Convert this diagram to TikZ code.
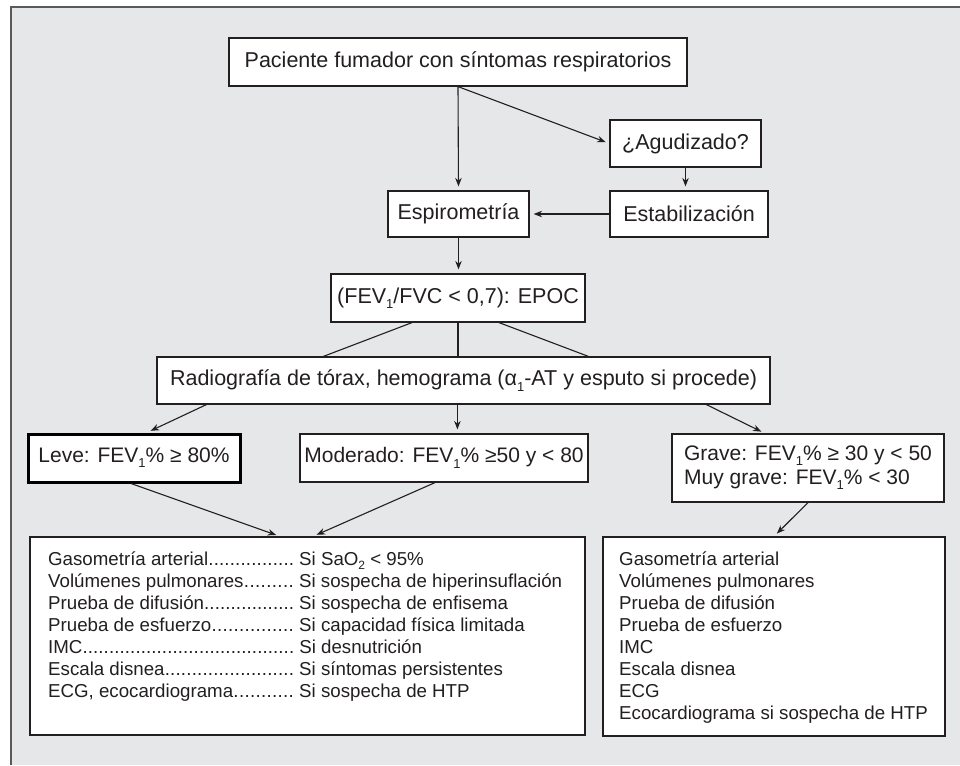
\documentclass[tikz,border=0pt]{standalone}
\usepackage{fontspec}
\setmainfont{Liberation Sans}
\usetikzlibrary{arrows.meta,calc}
\definecolor{bggray}{HTML}{E6E7E8}
\definecolor{framec}{HTML}{5A5A5A}
\definecolor{ink}{HTML}{231F20}
\newcommand{\mysub}[2][13]{\raisebox{-0.25em}{\fontsize{#1}{#1}\selectfont #2}}
\newcommand{\dotlead}{\xleaders\hbox{.}\hfill}
\newcommand{\col}[1]{\makebox[246pt][l]{#1\dotlead}\hspace{5pt}}
\begin{document}
\begin{tikzpicture}[x=1pt,y=-1pt,
  box/.style={draw=ink, line width=1.2pt, fill=white, inner sep=0pt, text=ink,
    font=\fontsize{21.5}{22}\selectfont, align=left},
  sev/.style={box, font=\fontsize{21}{24}\selectfont},
  arr/.style={draw=ink, line width=1.1pt, -{Stealth[length=8.5pt,width=6.5pt]}, shorten >=4pt},
  ln/.style={draw=ink, line width=1.1pt},
  listtxt/.style={anchor=base west, inner sep=0pt, text=ink, font=\fontsize{18.7}{22}\selectfont}]
\useasboundingbox (0,0) rectangle (960,765);
\clip (0,0) rectangle (960,765);
\fill[white] (0,0) rectangle (960,765);
\fill[bggray] (10.5,7.5) rectangle (960,765);
\draw[framec, line width=2pt] (10.5,765) -- (10.5,7.5) -- (960,7.5);

% flow nodes
\node[box, minimum width=458pt, minimum height=48pt] (pac) at (458,62) {Paciente fumador con síntomas respiratorios};
\node[box, minimum width=151pt, minimum height=47pt] (agud) at (685.5,143.5) {¿Agudizado?};
\node[box, minimum width=158pt, minimum height=46pt] (estab) at (689,214) {Estabilización};
\node[box, minimum width=141pt, minimum height=46pt] (espiro) at (458.5,214) {Espirometría};
\node[box, minimum width=254pt, minimum height=48pt] (fev) at (458,298) {(FEV\mysub{1}/FVC < 0,7): EPOC};
\node[box, minimum width=613pt, minimum height=47pt] (radiog) at (463.5,380.5) {Radiografía de tórax, hemograma (α\mysub{1}-AT y esputo si procede)};
\node[sev, line width=3pt, draw=black, minimum width=212pt, minimum height=48pt] (leve) at (134,458) {Leve: FEV\mysub{1}\% ≥ 80\%};
\node[sev, minimum width=288pt, minimum height=48pt] (mod) at (444,458) {Moderado: FEV\mysub{1}\% ≥50 y < 80};
\node[sev, minimum width=272pt, minimum height=68pt] (grave) at (808,468) {Grave: FEV\mysub{1}\% ≥ 30 y < 50\\Muy grave: FEV\mysub{1}\% < 30};
\node[box, minimum width=555pt, minimum height=198pt] (listL) at (307.5,636) {};
\node[box, minimum width=342pt, minimum height=199pt] (listR) at (774,636.5) {};

% connectors
\draw[arr] (pac.south) -- (espiro.north);
\draw[arr] (pac.south) -- (agud.west);
\draw[arr] (agud.south) -- (agud.south |- estab.north);
\draw[arr] (estab.west) -- (espiro.east);
\draw[arr] (espiro.south) -- (espiro.south |- fev.north);
\draw[ln] ($(fev.south)+(-46,0)$) -- ($(radiog.north west)+(167,0)$);
\draw[ln] (fev.south) -- (fev.south |- radiog.north);
\draw[ln] ($(fev.south)+(41,0)$) -- ($(radiog.north west)+(432,0)$);
\coordinate (rm) at ($(radiog.south west)+(301,0)$);
\draw[arr] ($(radiog.south west)+(50,0)$) -- ($(leve.north)+(13,0)$);
\draw[arr] (rm) -- (rm |- mod.north);
\draw[arr] ($(radiog.south west)+(550,0)$) -- ($(grave.north)+(-43,0)$);
\draw[arr] ($(leve.south)+(-3,0)$) -- ($(listL.north)+(-27.5,0)$);
\draw[arr] ($(mod.south)+(-9,0)$) -- ($(listL.north)+(5.5,0)$);
\draw[arr] (grave.south) -- (listR.north);

% left list
\node[listtxt] (l1) at (48,565) {\col{Gasometría arterial}Si SaO\mysub[12]{2} < 95\%};
\node[listtxt] (l2) at (48,587) {\col{Volúmenes pulmonares}Si sospecha de hiperinsuflación};
\node[listtxt] (l3) at (48,609) {\col{Prueba de difusión}Si sospecha de enfisema};
\node[listtxt] (l4) at (48,631) {\col{Prueba de esfuerzo}Si capacidad física limitada};
\node[listtxt] (l5) at (48,653) {\col{IMC}Si desnutrición};
\node[listtxt] (l6) at (48,675) {\col{Escala disnea}Si síntomas persistentes};
\node[listtxt] (l7) at (48,697) {\col{ECG, ecocardiograma}Si sospecha de HTP};

% right list
\node[listtxt] (r1) at (619,565) {Gasometría arterial};
\node[listtxt] (r2) at (619,587) {Volúmenes pulmonares};
\node[listtxt] (r3) at (619,609) {Prueba de difusión};
\node[listtxt] (r4) at (619,631) {Prueba de esfuerzo};
\node[listtxt] (r5) at (619,653) {IMC};
\node[listtxt] (r6) at (619,675) {Escala disnea};
\node[listtxt] (r7) at (619,697) {ECG};
\node[listtxt] (r8) at (619,719) {Ecocardiograma si sospecha de HTP};
\end{tikzpicture}
\end{document}
